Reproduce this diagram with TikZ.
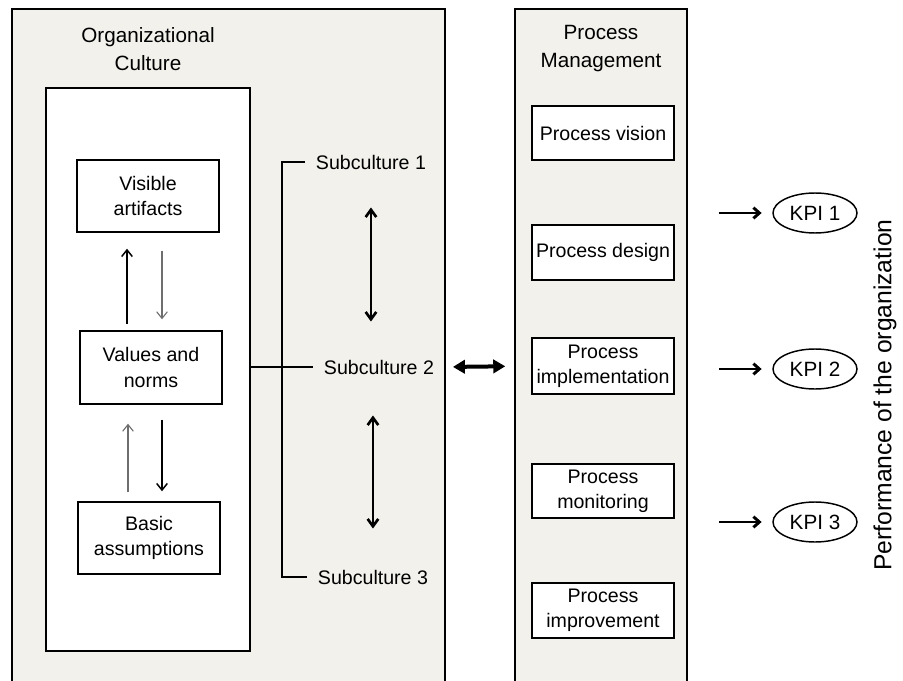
\documentclass[tikz,border=0pt]{standalone}
\usepackage{fontspec}
\setmainfont{Liberation Sans}
\usetikzlibrary{arrows.meta,shapes.geometric}
\definecolor{Panel}{HTML}{F2F1EB}
\definecolor{Faint}{HTML}{6E6E6E}

\tikzset{
  panel/.style={fill=Panel,draw,line width=1.1pt},
  title/.style={align=center,font=\fontsize{15.5}{21}\selectfont},
  box/.style={draw,line width=1.1pt,fill=white,align=center,inner sep=1pt,minimum width=106.5pt},
  subtxt/.style={anchor=west,inner xsep=8pt,inner ysep=3pt},
  kpi/.style={ellipse,draw,line width=1.1pt,fill=white,minimum width=63pt,minimum height=30pt,inner sep=0pt,font=\fontsize{15.5}{19}\selectfont},
  blkarr/.style={line width=1.1pt,-{Straight Barb[length=5pt,width=8pt]}},
  greyarr/.style={Faint,line width=0.8pt,-{Straight Barb[length=5pt,width=8pt]}},
  twoway/.style={line width=2pt,{Straight Barb[length=5.5pt,width=8pt]}-{Straight Barb[length=5.5pt,width=8pt]}},
  bigtwo/.style={line width=3pt,{Triangle[length=9pt,width=10pt]}-{Triangle[length=9pt,width=10pt]}},
  kpiarr/.style={line width=2.2pt,-{Straight Barb[length=4.5pt,width=8pt]}}
}

\begin{document}
\begin{tikzpicture}[x=0.75pt,y=-0.75pt,font=\fontsize{14.7}{19}\selectfont]
  \useasboundingbox (0,0) rectangle (903,681);

  % panels, open at the bottom
  \filldraw[panel] (12,681) -- (12,9) -- (445,9) -- (445,681);
  \filldraw[panel] (515,681) -- (515,9) -- (687,9) -- (687,681);

  \node[title] (oc) at (148,49) {Organizational\\Culture};
  \node[title] (pm) at (601,49) {Process\\Management};

  % culture levels
  \node[draw,line width=1.1pt,fill=white,minimum width=153pt,minimum height=422pt] (inner) at (148,369.5) {};
  \node[box,minimum height=54pt] (va) at (148,196) {Visible\\artifacts};
  \node[box,minimum height=54.75pt] (vn) at (151,367.5) {Values and\\norms};
  \node[box,minimum height=54pt] (ba) at (149,538) {Basic\\assumptions};

  \draw[blkarr,shorten <=4.5pt,shorten >=12pt] ([xshift=-18pt]vn.north) -- ([xshift=-18pt]vn.north |- va.south);
  \draw[greyarr,shorten <=13.5pt,shorten >=8.25pt] ([xshift=8.25pt]vn.north |- va.south) -- ([xshift=8.25pt]vn.north);
  \draw[blkarr,shorten <=11.25pt,shorten >=7.5pt] ([xshift=8.25pt]vn.south) -- ([xshift=8.25pt]vn.south |- ba.north);
  \draw[greyarr,shorten <=6.75pt,shorten >=14.25pt] ([xshift=-17.25pt]vn.south |- ba.north) -- ([xshift=-17.25pt]vn.south);

  % subcultures
  \node[subtxt] (sub1) at (305,162) {Subculture 1};
  \node[subtxt] (sub2) at (313,367) {Subculture 2};
  \node[subtxt] (sub3) at (307,577) {Subculture 3};
  \coordinate (brk) at (282,0);
  \draw[line width=1.1pt] (sub1.west) -- (sub1.west -| brk) -- (sub3.west -| brk) -- (sub3.west);
  \draw[line width=1.1pt] (inner.east |- sub2.west) -- (sub2.west);
  \draw[twoway,shorten <=25.5pt,shorten >=25.5pt] (sub1.south) -- (sub1.south |- sub2.north);
  \draw[twoway,shorten <=27.75pt,shorten >=27.75pt] (sub3.north |- sub2.south) -- (sub3.north);

  % process management
  \node[box,minimum height=40.5pt] (vision) at (603,133) {Process vision};
  \node[box,minimum height=41pt] (design) at (603,252.5) {Process design};
  \node[box,minimum height=42pt] (impl) at (603,366) {Process\\implementation};
  \node[box,minimum height=40.5pt] (monit) at (603,491) {Process\\monitoring};
  \node[box,minimum height=41pt] (improve) at (603,610.5) {Process\\improvement};

  \draw[bigtwo,shorten <=6pt,shorten >=19.5pt] (sub2.east) -- (impl.west);

  % performance indicators
  \node[kpi] (kpi1) at (815,213) {KPI 1};
  \node[kpi] (kpi2) at (815,369) {KPI 2};
  \node[kpi] (kpi3) at (815,522) {KPI 3};
  \foreach \k in {kpi1,kpi2,kpi3}
    \draw[kpiarr,shorten >=8pt] (\k.west) ++(-53,0) -- (\k.west);

  \node[rotate=90,font=\fontsize{18.5}{22}\selectfont] (perf) at (885,395) {Performance of the organization};
\end{tikzpicture}
\end{document}
